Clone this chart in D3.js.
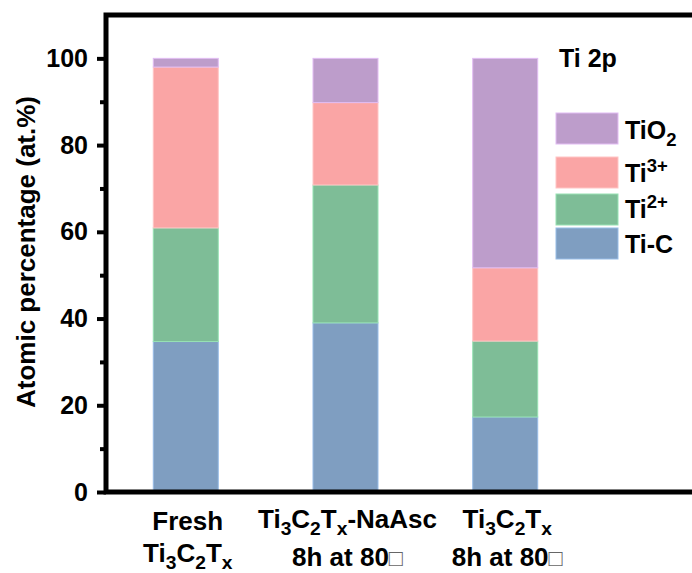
<!DOCTYPE html>
<html>
<head>
<meta charset="utf-8">
<script src="https://cdn.jsdelivr.net/npm/d3@7"></script>
<style>
  html, body { margin: 0; padding: 0; background: #fff; }
  svg { display: block; }
  text { font-family: "Liberation Sans", Arial, sans-serif; font-weight: bold; fill: #000; }
</style>
</head>
<body>
<svg id="chart" width="692" height="573"></svg>
<script>
// Samples on the x axis
const categories = ["fresh", "naasc", "aged"];

// Ti 2p component shares (at.%), bottom to top of each stack
const seriesKeys = ["Ti-C", "Ti2+", "Ti3+", "TiO2"];
const tiC  = [34.7, 39.0, 17.3];
const ti2  = [26.2, 31.8, 17.5];
const ti3  = [37.1, 19.0, 16.9];
const tio2 = [2.0, 10.2, 48.3];

const yMajorTicks = [0, 20, 40, 60, 80, 100];
const yMinorTicks = [10, 30, 50, 70, 90];

// Category labels: each line is a list of [text, shift] (1 = subscript, -1 = superscript)
const categoryLabels = [
  [[["Fresh", 0]], [["Ti", 0], ["3", 1], ["C", 0], ["2", 1], ["T", 0], ["x", 1]]],
  [[["Ti", 0], ["3", 1], ["C", 0], ["2", 1], ["T", 0], ["x", 1], ["-NaAsc", 0]], [["8h at 80", 0], ["\u25A1", 2]]],
  [[["Ti", 0], ["3", 1], ["C", 0], ["2", 1], ["T", 0], ["x", 1]], [["8h at 80", 0], ["\u25A1", 2]]]
];

// Legend entries, top to bottom
const legendKeys = ["TiO2", "Ti3+", "Ti2+", "Ti-C"];
const legendLabels = [
  [["TiO", 0], ["2", 1]],
  [["Ti", 0], ["3+", -1]],
  [["Ti", 0], ["2+", -1]],
  [["Ti-C", 0]]
];
const panelTitle = "Ti 2p";
const yTitle = "Atomic percentage (at.%)";

const colors = {
  "TiO2": "#bd9dcb",
  "Ti3+": "#faa5a5",
  "Ti2+": "#7ebd97",
  "Ti-C": "#7f9ec1"
};

const svg = d3.select("#chart");
const plotLeft = 106, plotRight = 692, plotTop = 15, plotBottom = 492;

const x = d3.scaleBand()
  .domain(categories)
  .range([106, 585])
  .paddingInner(0.593)
  .paddingOuter(0.296);

const y = d3.scaleLinear().domain([0, 110]).range([plotBottom, plotTop]);

// Stacked bars
const rows = categories.map((c, i) => ({
  cat: c, "Ti-C": tiC[i], "Ti2+": ti2[i], "Ti3+": ti3[i], "TiO2": tio2[i]
}));
const stacked = d3.stack().keys(seriesKeys)(rows);

svg.append("g").selectAll("g")
  .data(stacked)
  .join("g")
  .attr("fill", d => colors[d.key])
  .attr("stroke", d => d3.color(colors[d.key]).brighter(0.5))
  .attr("stroke-width", 1)
  .selectAll("rect")
  .data(d => d)
  .join("rect")
  .attr("x", d => x(d.data.cat))
  .attr("width", x.bandwidth())
  .attr("y", d => y(d[1]))
  .attr("height", d => y(d[0]) - y(d[1]));

// Rich text helper (sub/superscripts via tspans)
function richText(sel, parts, baseSize) {
  let shift = 0;
  parts.forEach(([str, kind]) => {
    let target = 0, size = baseSize, weight = null, fill = null;
    if (kind === 1) { target = baseSize * 0.27; size = baseSize * 0.74; }
    if (kind === -1) { target = -baseSize * 0.4; size = baseSize * 0.74; }
    if (kind === 2) { weight = "normal"; fill = "#666"; size = baseSize * 0.9; }
    const t = sel.append("tspan")
      .attr("dy", target - shift)
      .attr("font-size", size)
      .text(str);
    if (weight) t.attr("font-weight", weight);
    if (fill) t.style("fill", fill);
    shift = target;
  });
}

// Y axis: major and minor ticks
const yAxis = svg.append("g")
  .attr("transform", `translate(${plotLeft},0)`)
  .call(d3.axisLeft(y).tickValues(yMajorTicks).tickSize(9).tickPadding(9).tickFormat(d3.format("d")));
yAxis.select(".domain").remove();
yAxis.selectAll(".tick line").attr("stroke", "#000").attr("stroke-width", 4);
yAxis.selectAll(".tick text").attr("font-size", 25).style("font-family", '"Liberation Sans", Arial, sans-serif').style("font-weight", "bold");

const yMinor = svg.append("g")
  .attr("transform", `translate(${plotLeft},0)`)
  .call(d3.axisLeft(y).tickValues(yMinorTicks).tickSize(6).tickFormat(""));
yMinor.select(".domain").remove();
yMinor.selectAll(".tick line").attr("stroke", "#000").attr("stroke-width", 4);

// Frame: left, bottom and top lines
svg.append("path")
  .attr("d", `M${plotRight},${plotTop}H${plotLeft}V${plotBottom}H${plotRight}`)
  .attr("fill", "none")
  .attr("stroke", "#000")
  .attr("stroke-width", 5);

// Y title
svg.append("text")
  .attr("transform", "translate(35,252) rotate(-90)")
  .attr("text-anchor", "middle")
  .attr("font-size", 26)
  .text(yTitle);

// Category labels
const lineBaselines = [[530, 562], [528, 566], [528, 566]];
categoryLabels.forEach((lines, i) => {
  const cx = x(categories[i]) + x.bandwidth() / 2 + 2;
  lines.forEach((parts, j) => {
    const t = svg.append("text")
      .attr("x", cx)
      .attr("y", lineBaselines[i][j])
      .attr("text-anchor", "middle")
      .attr("font-size", 26);
    richText(t, parts, 26);
  });
});

// Panel title
svg.append("text")
  .attr("x", 559).attr("y", 67)
  .attr("font-size", 25)
  .text(panelTitle);

// Legend
const legendTops = [113, 157, 194, 228];
const legendBaselines = [139, 182, 218, 253];
legendKeys.forEach((k, i) => {
  svg.append("rect")
    .attr("x", 556).attr("y", legendTops[i])
    .attr("width", 62).attr("height", 31)
    .attr("fill", colors[k])
    .attr("stroke", d3.color(colors[k]).brighter(0.5))
    .attr("stroke-width", 1);
  const t = svg.append("text")
    .attr("x", 625).attr("y", legendBaselines[i])
    .attr("font-size", 25);
  richText(t, legendLabels[i], 25);
});
</script>
</body>
</html>
